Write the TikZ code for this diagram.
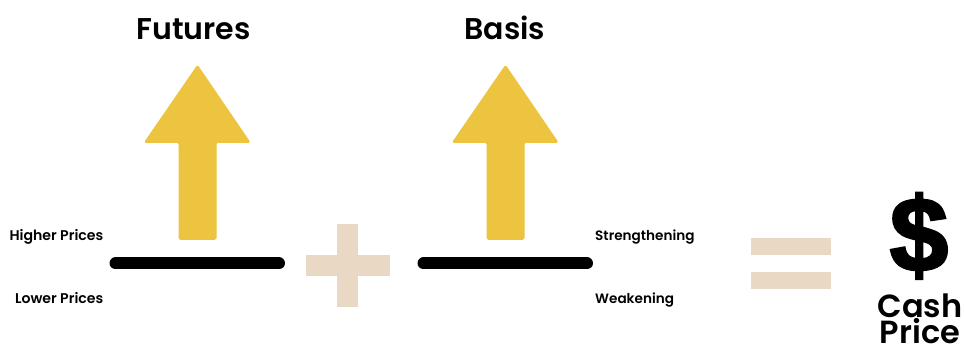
\documentclass[tikz,border=0pt]{standalone}
\usepackage{fontspec}
\setmainfont{Poppins}[BoldFont={Poppins SemiBold}]
\newfontfamily\dollarfont[FakeBold=2.5]{Liberation Sans Bold}
\definecolor{arrowyellow}{HTML}{ECC440}
\definecolor{signtan}{HTML}{E9D8C3}
\tikzset{
  x=1pt,y=-1pt,
  uparrow/.style={fill=arrowyellow,draw=arrowyellow,line width=1pt,line join=round,rounded corners=1.5pt},
  signbar/.style={fill=signtan,draw=none},
  blackbar/.style={draw=black,line width=12pt,line cap=round},
  heading/.style={font=\fontsize{30}{30}\selectfont\bfseries,inner sep=0pt,anchor=base},
  sidelabel/.style={font=\fontsize{13.6}{13.6}\selectfont\bfseries,inner sep=0pt,anchor=base},
  leftlabel/.style={font=\fontsize{14.1}{14.1}\selectfont\bfseries,inner sep=0pt,anchor=base east},
}
\begin{document}
\begin{tikzpicture}
\useasboundingbox (0,0) rectangle (964,344);
\clip (0,0) rectangle (964,344);
\node[heading] (futures) at (193.5,39.5) {Futures};
\node[heading] (basis) at (505,39.5) {Basis};
\foreach \dx in {0,308}{
  \begin{scope}[xshift=\dx pt]
  \draw[uparrow] (197.5,65.5) -- (250,142.5) -- (216,142.5) -- (216,239.5) -- (179,239.5) -- (179,142.5) -- (144.5,142.5) -- cycle;
  \end{scope}
}
\draw[blackbar] (115.5,263.5) -- (279,263.5);
\draw[blackbar] (423.5,263.5) -- (587,263.5);
\fill[signbar] (306,255) rectangle (389.5,276);
\fill[signbar] (337,224) rectangle (358,307);
\fill[signbar] (751,238) rectangle (831,255.5);
\fill[signbar] (751,272) rectangle (831,289);
\node[leftlabel] (higher) at (103.5,241) {Higher Prices};
\node[leftlabel] (lower) at (103.5,303.5) {Lower Prices};
\node[sidelabel,anchor=base west] (strong) at (595,241) {Strengthening};
\node[sidelabel,anchor=base west] (weak) at (595,303.5) {Weakening};
\node[font=\fontsize{105}{105}\dollarfont,inner sep=0pt,anchor=base] (dollar) at (919,271) {\$};
\node[font=\fontsize{32}{32}\selectfont\bfseries,inner sep=0pt,anchor=base] (cash) at (920,318) {Cash};
\node[font=\fontsize{32}{32}\selectfont\bfseries,inner sep=0pt,anchor=base] (price) at (920,344) {Price};
\end{tikzpicture}
\end{document}
